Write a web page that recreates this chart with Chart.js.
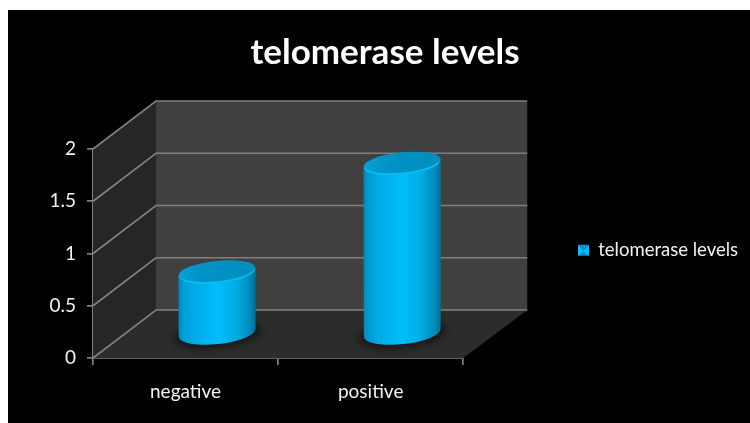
<!DOCTYPE html>
<html>
<head>
<meta charset="utf-8">
<script src="https://cdn.jsdelivr.net/npm/chart.js@4"></script>
<style>
html,body{margin:0;padding:0;background:#fff;overflow:hidden}
#wrap{position:absolute;left:8px;top:10px;width:742px;height:413px;background:#000}
canvas{display:block}
</style>
</head>
<body>
<div id="wrap"><canvas id="c" width="742" height="413"></canvas></div>
<script>
const categories = ["negative", "positive"];
const seriesName = "telomerase levels";
const seriesValues = [0.59, 1.63];
const tickValues = [0, 0.5, 1, 1.5, 2];
const tickLabels = ["0", "0.5", "1", "1.5", "2"];

const DEPTH_X = 63, DEPTH_Y = 48;
const BAR_FRACTION = 0.416;
const LINE = "#808080";
const LINE_W = 1.7;
const TILT = -6 * Math.PI / 180, RY = 11;

function bodyGradient(ctx, cx, half) {
  const g = ctx.createLinearGradient(cx - half, 0, cx + half, 0);
  g.addColorStop(0, "#0088b8");
  g.addColorStop(0.06, "#009cd4");
  g.addColorStop(0.22, "#00ade8");
  g.addColorStop(0.52, "#00bcfb");
  g.addColorStop(0.74, "#00ade6");
  g.addColorStop(0.92, "#008abb");
  g.addColorStop(1, "#006f96");
  return g;
}

function legendSwatch(ctx) {
  const g = ctx.createConicGradient(-Math.PI / 4, 575.5, 241);
  g.addColorStop(0, "#00c0ff");
  g.addColorStop(0.25, "#00c0ff");
  g.addColorStop(0.25, "#0095cc");
  g.addColorStop(0.5, "#0095cc");
  g.addColorStop(0.5, "#00c0ff");
  g.addColorStop(0.75, "#00c0ff");
  g.addColorStop(0.75, "#0095cc");
  g.addColorStop(1, "#0095cc");
  return g;
}

const scene3d = {
  id: "scene3d",
  afterLayout(chart) {
    const leg = chart.legend;
    leg.left = 560; leg.right = 742; leg.top = 221; leg.bottom = 270;
    chart.titleBlock.left = 0; chart.titleBlock.right = 754;
  },
  beforeDatasetsDraw(chart) {
    const { ctx, chartArea: a, scales: { y } } = chart;
    const L = a.left, R = a.right, B = y.getPixelForValue(0), T = y.getPixelForValue(2);
    ctx.save();
    ctx.fillStyle = "#404040";
    ctx.fillRect(L + DEPTH_X, T - DEPTH_Y, R - L + 1, B - T);
    ctx.fillStyle = "#262626";
    ctx.beginPath();
    ctx.moveTo(L, B); ctx.lineTo(L, T);
    ctx.lineTo(L + DEPTH_X, T - DEPTH_Y); ctx.lineTo(L + DEPTH_X, B - DEPTH_Y);
    ctx.closePath(); ctx.fill();
    ctx.fillStyle = "#2c2c2c";
    ctx.beginPath();
    ctx.moveTo(L, B); ctx.lineTo(R, B);
    ctx.lineTo(R + DEPTH_X + 1, B - DEPTH_Y); ctx.lineTo(L + DEPTH_X, B - DEPTH_Y);
    ctx.closePath(); ctx.fill();
    ctx.strokeStyle = LINE; ctx.lineWidth = LINE_W;
    tickValues.forEach(v => {
      const p = y.getPixelForValue(v);
      ctx.beginPath();
      ctx.moveTo(L, p);
      ctx.lineTo(L + DEPTH_X, p - DEPTH_Y);
      ctx.lineTo(R + DEPTH_X + 1, p - DEPTH_Y);
      ctx.stroke();
    });
    ctx.restore();
  },
  beforeDatasetDraw(chart, args) {
    const { ctx } = chart;
    const els = chart.getDatasetMeta(args.index).data;
    els.forEach(el => {
      const cx = el.x + DEPTH_X / 2, base = el.base - DEPTH_Y / 2, half = el.width / 2;
      ctx.save();
      ctx.filter = "blur(4px)";
      ctx.fillStyle = "rgba(0,0,0,0.6)";
      ctx.beginPath();
      ctx.ellipse(cx, base + 1, half + 5, RY + 2, TILT, 0, Math.PI * 2);
      ctx.fill();
      ctx.restore();
      const top = el.y - DEPTH_Y / 2;
      const s = Math.sin(TILT) * half;
      ctx.save();
      ctx.fillStyle = bodyGradient(ctx, cx, half);
      ctx.beginPath();
      ctx.ellipse(cx, base, half, RY, TILT, 0, Math.PI);
      ctx.lineTo(cx - half, top - s);
      ctx.lineTo(cx + half, top + s);
      ctx.closePath();
      ctx.fill();
      ctx.restore();
    });
    // the library's bars draw inside the cylinder outline, pushed to mid depth
    ctx.save();
    ctx.translate(DEPTH_X / 2, -DEPTH_Y / 2);
    ctx.beginPath();
    els.forEach(el => {
      const half = el.width / 2, s = Math.sin(TILT) * half;
      ctx.moveTo(el.x - half, el.y - s);
      ctx.lineTo(el.x + half, el.y + s);
      ctx.lineTo(el.x + half, el.base + s);
      ctx.lineTo(el.x - half, el.base - s);
      ctx.closePath();
    });
    ctx.clip();
  },
  afterDatasetDraw(chart, args) {
    const { ctx } = chart;
    ctx.restore();
    chart.getDatasetMeta(args.index).data.forEach(el => {
      const cx = el.x + DEPTH_X / 2, cy = el.y - DEPTH_Y / 2, half = el.width / 2;
      ctx.save();
      ctx.fillStyle = "#0abcf3";
      ctx.beginPath();
      ctx.ellipse(cx, cy, half, RY, TILT, 0, Math.PI * 2);
      ctx.fill();
      const g = ctx.createLinearGradient(cx - half, 0, cx + half, 0);
      g.addColorStop(0, "#00a2d8");
      g.addColorStop(0.35, "#0091c6");
      g.addColorStop(1, "#008dbf");
      ctx.fillStyle = g;
      ctx.beginPath();
      ctx.ellipse(cx, cy - 1.2, half - 0.2, RY - 0.9, TILT, 0, Math.PI * 2);
      ctx.fill();
      ctx.restore();
    });
  }
};

new Chart(document.getElementById("c"), {
  type: "bar",
  data: {
    labels: categories,
    datasets: [{
      label: seriesName,
      data: seriesValues,
      clip: false,
      borderWidth: 0,
      barPercentage: BAR_FRACTION,
      categoryPercentage: 1,
      backgroundColor(context) {
        const sc = context.chart.scales.x;
        const px = (sc && context.dataIndex !== undefined) ? sc.getPixelForValue(context.dataIndex) : NaN;
        const w = sc ? (sc.right - sc.left) / categories.length * BAR_FRACTION : NaN;
        if (!Number.isFinite(px) || !Number.isFinite(w) || w <= 0) return "#0cbcf5";
        return bodyGradient(context.chart.ctx, px, w / 2);
      }
    }]
  },
  options: {
    responsive: false,
    animation: false,
    devicePixelRatio: 1,
    layout: { padding: { left: 12, right: 139, top: 0, bottom: 0 } },
    plugins: {
      tooltip: { enabled: false },
      title: {
        display: true,
        text: seriesName,
        color: "#ffffff",
        font: { family: "Lato", size: 35, weight: "bold", lineHeight: 1.2 },
        padding: { top: 22, bottom: 75 }
      },
      legend: {
        display: true,
        position: "right",
        align: "start",
        labels: {
          color: "#f2f2f2",
          font: { family: "Lato", size: 18.5 },
          boxWidth: 11,
          boxHeight: 11,
          padding: 10,
          generateLabels(chart) {
            const items = Chart.defaults.plugins.legend.labels.generateLabels(chart);
            items.forEach(it => { it.fillStyle = legendSwatch(chart.ctx); it.strokeStyle = "transparent"; it.lineWidth = 0; });
            return items;
          }
        }
      }
    },
    scales: {
      x: {
        afterFit(s) { s.height = 65; },
        border: { color: LINE, width: LINE_W },
        grid: { display: true, drawOnChartArea: false, drawTicks: true, tickLength: 7, color: LINE, lineWidth: LINE_W, offset: true },
        ticks: { color: "#f2f2f2", font: { family: "Lato", size: 19 }, padding: 15, maxRotation: 0 }
      },
      y: {
        min: 0,
        max: 2,
        afterFit(s) { s.width = 73; },
        border: { color: LINE, width: LINE_W },
        grid: { display: true, drawOnChartArea: false, drawTicks: true, tickLength: 6, color: LINE, lineWidth: LINE_W },
        ticks: {
          stepSize: 0.5,
          color: "#f2f2f2",
          font: { family: "Lato", size: 19 },
          padding: 11,
          callback(v) { const i = tickValues.indexOf(v); return i < 0 ? "" : tickLabels[i]; }
        }
      }
    }
  },
  plugins: [scene3d]
});
</script>
</body>
</html>
